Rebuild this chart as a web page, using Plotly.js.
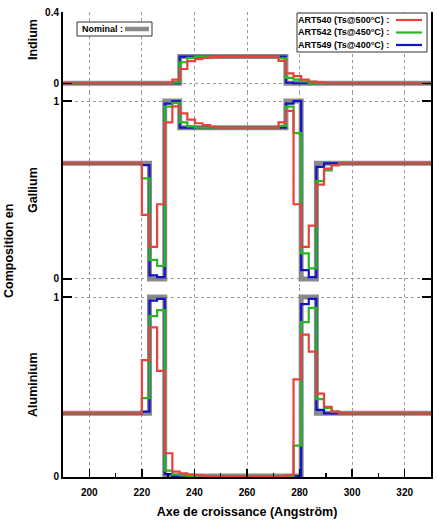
<!DOCTYPE html>
<html>
<head>
<meta charset="utf-8">
<script src="https://cdn.plot.ly/plotly-3.0.1.min.js"></script>
<style>html,body{margin:0;padding:0;background:#fff}#chart{width:437px;height:522px}</style>
</head>
<body>
<div id="chart"></div>
<script>
// Bin starts (Angström) of the composition profile; last value closes the last step
const xBins = [190, 214.2, 217.1, 220.0, 222.9, 225.8, 228.7, 231.6, 234.4, 237.3, 240.2, 243.1, 246.0, 248.9, 251.8, 254.6,
  257.5, 260.4, 263.3, 266.2, 269.1, 272.0, 274.8, 277.7, 280.6, 283.5, 286.4, 289.3, 292.2, 295.0, 297.9, 330];

// Nominal
const nomIn = [0,0,0,0,0,0,0,0, 0.15,0.15,0.15,0.15,0.15,0.15,0.15,0.15,0.15,0.15,0.15,0.15,0.15,0.15, 0,0,0,0,0,0,0,0,0,0];
const nomGa = [0.65,0.65,0.65,0.65, 0,0, 1,1, 0.85,0.85,0.85,0.85,0.85,0.85,0.85,0.85,0.85,0.85,0.85,0.85,0.85,0.85, 1,1, 0,0, 0.65,0.65,0.65,0.65,0.65,0.65];
const nomAl = [0.35,0.35,0.35,0.35, 1,1, 0,0,0,0,0,0,0,0,0,0,0,0,0,0,0,0,0,0, 1,1, 0.35,0.35,0.35,0.35,0.35,0.35];

// ART540 (Ts@500°C)
const r540In = [0,0,0,0,0,0,0, 0.02,0.08,0.124,0.135,0.143,0.147, 0.15,0.15,0.15,0.15,0.15,0.15,0.15,0.15, 0.125,0.055,0.04,0.02,0.01,0.005, 0,0,0,0,0];
const r540Ga = [0.65,0.65,0.65, 0.36,0.18,0.42,0.88,0.97,0.93,0.895,0.875,0.865,0.855, 0.85,0.85,0.85,0.85,0.85,0.85,0.85,0.85, 0.88,0.945,0.42,0.18,0.30,0.53,0.62,0.64, 0.65,0.65,0.65];
const r540Al = [0.35,0.35,0.35, 0.648,0.83,0.587,0.127,0.024,0.015,0.008,0.005, 0,0,0,0,0,0,0,0,0,0,0, 0.005, 0.54,0.79,0.695,0.46,0.387,0.36, 0.35,0.35,0.35];

// ART542 (Ts@450°C)
const r542In = [0,0,0,0,0,0,0, 0.005,0.118,0.143, 0.15,0.15,0.15,0.15,0.15,0.15,0.15,0.15,0.15,0.15,0.15, 0.14,0.03,0.02,0.01, 0,0,0,0,0,0,0];
const r542Ga = [0.65,0.65,0.65, 0.565,0.107,0.073,0.968,0.99,0.88,0.857, 0.85,0.85,0.85,0.85,0.85,0.85,0.85,0.85,0.85,0.85,0.85, 0.86,0.968,0.82,0.144,0.06,0.55,0.61,0.64, 0.65,0.65,0.65];
const r542Al = [0.35,0.35,0.35, 0.435,0.893,0.927,0.03,0.008,0.003, 0,0,0,0,0,0,0,0,0,0,0,0,0,0, 0.17,0.86,0.94,0.43,0.38,0.36, 0.35,0.35,0.35];

// ART549 (Ts@400°C)
const r549In = [0,0,0,0,0,0,0,0, 0.15,0.15,0.15,0.15,0.15,0.15,0.15,0.15,0.15,0.15,0.15,0.15,0.15,0.15, 0.003,0,0,0,0,0,0,0,0,0];
const r549Ga = [0.65,0.65,0.65, 0.64,0.02,0.01,0.985,1.0, 0.85,0.85,0.85,0.85,0.85,0.85,0.85,0.85,0.85,0.85,0.85,0.85,0.85,0.85, 0.985,1.0,0.05,0.01,0.63, 0.65,0.65,0.65,0.65,0.65];
const r549Al = [0.35,0.35,0.35, 0.36,0.98,0.99,0.01, 0,0,0,0,0,0,0,0,0,0,0,0,0,0,0,0,0, 0.96,0.99,0.37, 0.35,0.35,0.35,0.35,0.35];

const xTicks = [200, 220, 240, 260, 280, 300, 320];
const xMinor = [190, 210, 230, 250, 270, 290, 310, 330];
const seriesNames = ['ART540 (Ts@500°C) :', 'ART542 (Ts@450°C) :', 'ART549 (Ts@400°C) :'];
const panelNames = ['Indium', 'Gallium', 'Aluminium'];

const RED = '#e8423f', GREEN = '#25b825', BLUE = '#1212c8', GRAY = 'rgba(125,125,125,0.9)';
const FONT = 'Liberation Sans, Arial, sans-serif';

function tr(y, yaxis, color, width) {
  return {x: xBins, y: y, yaxis: yaxis, type: 'scatter', mode: 'lines',
    line: {shape: 'hv', color: color, width: width}, hoverinfo: 'skip', showlegend: false};
}
const data = [
  tr(nomIn, 'y', GRAY, 5), tr(nomGa, 'y2', GRAY, 5), tr(nomAl, 'y3', GRAY, 5),
  tr(r549In, 'y', BLUE, 2.2), tr(r549Ga, 'y2', BLUE, 2.2), tr(r549Al, 'y3', BLUE, 2.2),
  tr(r542In, 'y', GREEN, 2.2), tr(r542Ga, 'y2', GREEN, 2.2), tr(r542Al, 'y3', GREEN, 2.2),
  tr(r540In, 'y', RED, 2.2), tr(r540Ga, 'y2', RED, 2.2), tr(r540Al, 'y3', RED, 2.2)
];

// pixel -> paper helpers (plot area: x 63..431, y 12..477)
const L = 63, R = 431, T = 12, B = 477;
const PX = p => (p - L) / (R - L);
const PY = p => (B - p) / (B - T);

const tickFont = {family: FONT, size: 10, color: '#000', weight: 'bold'};
const yBase = {
  ticks: 'inside', ticklen: 9, tickwidth: 1.5, tickcolor: '#000',
  showline: true, linecolor: '#000', linewidth: 2, mirror: 'ticks',
  showgrid: true, gridcolor: '#9a9a9a', griddash: 'dot', gridwidth: 1,
  zeroline: false, tickfont: tickFont, fixedrange: true
};
const legendFont = {family: FONT, size: 9, color: '#000', weight: 'bold'};
const labelFont = {family: FONT, size: 12.5, color: '#000', weight: 'bold'};
const layout = {
  width: 437, height: 522,
  margin: {l: L, r: 437 - R, t: T, b: 522 - B},
  paper_bgcolor: '#fff', plot_bgcolor: '#fff',
  showlegend: false,
  xaxis: {
    range: [190, 330], anchor: 'y3', tickvals: xTicks, ticktext: xTicks.map(String),
    ticks: 'inside', ticklen: 8, tickwidth: 1.5, tickcolor: '#000', ticklabelstandoff: 5,
    minor: {tickvals: xMinor, ticks: 'inside', ticklen: 4, tickwidth: 1.5, tickcolor: '#000', showgrid: false},
    showline: true, linecolor: '#000', linewidth: 2,
    showgrid: true, gridcolor: '#9a9a9a', griddash: 'dot', gridwidth: 1, zeroline: false,
    tickfont: tickFont,
    title: {text: 'Axe de croissance (Angström)', font: labelFont, standoff: 10}
  },
  xaxis2: {
    range: [190, 330], overlaying: 'x', anchor: 'y', side: 'top', tickvals: xTicks,
    ticks: 'inside', ticklen: 8, tickwidth: 1.5, tickcolor: '#000', showticklabels: false,
    minor: {tickvals: xMinor, ticks: 'inside', ticklen: 4, tickwidth: 1.5, tickcolor: '#000', showgrid: false},
    showline: true, linecolor: '#000', linewidth: 2, showgrid: false, zeroline: false
  },
  yaxis: Object.assign({}, yBase, {domain: [PY(92), 1], range: [-0.049, 0.4], tickvals: [0, 0.4], ticktext: ['0', '0.4']}),
  yaxis2: Object.assign({}, yBase, {domain: [PY(288), PY(92)], range: [-0.0506, 1.0506], tickvals: [0, 1], ticktext: ['0', '1']}),
  yaxis3: Object.assign({}, yBase, {domain: [0, PY(288)], range: [-0.0056, 1.0506], tickvals: [0, 1], ticktext: ['0', '1']}),
  shapes: [
    {type: 'rect', xref: 'paper', yref: 'paper', x0: PX(297), x1: PX(427), y0: PY(52), y1: PY(13),
      line: {color: '#333', width: 1}, fillcolor: '#fff', layer: 'above'},
    {type: 'line', xref: 'paper', yref: 'paper', x0: PX(396), x1: PX(422), y0: PY(20), y1: PY(20), line: {color: RED, width: 2.2}, layer: 'above'},
    {type: 'line', xref: 'paper', yref: 'paper', x0: PX(396), x1: PX(422), y0: PY(32.5), y1: PY(32.5), line: {color: GREEN, width: 2.2}, layer: 'above'},
    {type: 'line', xref: 'paper', yref: 'paper', x0: PX(396), x1: PX(422), y0: PY(45), y1: PY(45), line: {color: BLUE, width: 2.2}, layer: 'above'},
    {type: 'rect', xref: 'paper', yref: 'paper', x0: PX(77), x1: PX(152), y0: PY(36), y1: PY(22),
      line: {color: '#333', width: 1}, fillcolor: '#fff', layer: 'above'},
    {type: 'line', xref: 'paper', yref: 'paper', x0: PX(125), x1: PX(149), y0: PY(29), y1: PY(29), line: {color: GRAY, width: 4.5}, layer: 'above'}
  ],
  annotations: [
    {text: seriesNames[0], xref: 'paper', yref: 'paper', x: PX(391), y: PY(20), xanchor: 'right', yanchor: 'middle', showarrow: false, font: legendFont},
    {text: seriesNames[1], xref: 'paper', yref: 'paper', x: PX(391), y: PY(32.5), xanchor: 'right', yanchor: 'middle', showarrow: false, font: legendFont},
    {text: seriesNames[2], xref: 'paper', yref: 'paper', x: PX(391), y: PY(45), xanchor: 'right', yanchor: 'middle', showarrow: false, font: legendFont},
    {text: 'Nominal :', xref: 'paper', yref: 'paper', x: PX(80), y: PY(29), xanchor: 'left', yanchor: 'middle', showarrow: false, font: legendFont},
    {text: panelNames[0], xref: 'paper', yref: 'paper', x: PX(33), y: PY(40), xanchor: 'center', yanchor: 'middle', textangle: -90, showarrow: false, font: labelFont},
    {text: panelNames[1], xref: 'paper', yref: 'paper', x: PX(33), y: PY(190), xanchor: 'center', yanchor: 'middle', textangle: -90, showarrow: false, font: labelFont},
    {text: panelNames[2], xref: 'paper', yref: 'paper', x: PX(33), y: PY(385), xanchor: 'center', yanchor: 'middle', textangle: -90, showarrow: false, font: labelFont},
    {text: 'Composition en', xref: 'paper', yref: 'paper', x: PX(9), y: PY(251), xanchor: 'center', yanchor: 'middle', textangle: -90, showarrow: false, font: labelFont}
  ]
};
Plotly.newPlot('chart', data, layout, {staticPlot: true, displayModeBar: false});
</script>
</body>
</html>
